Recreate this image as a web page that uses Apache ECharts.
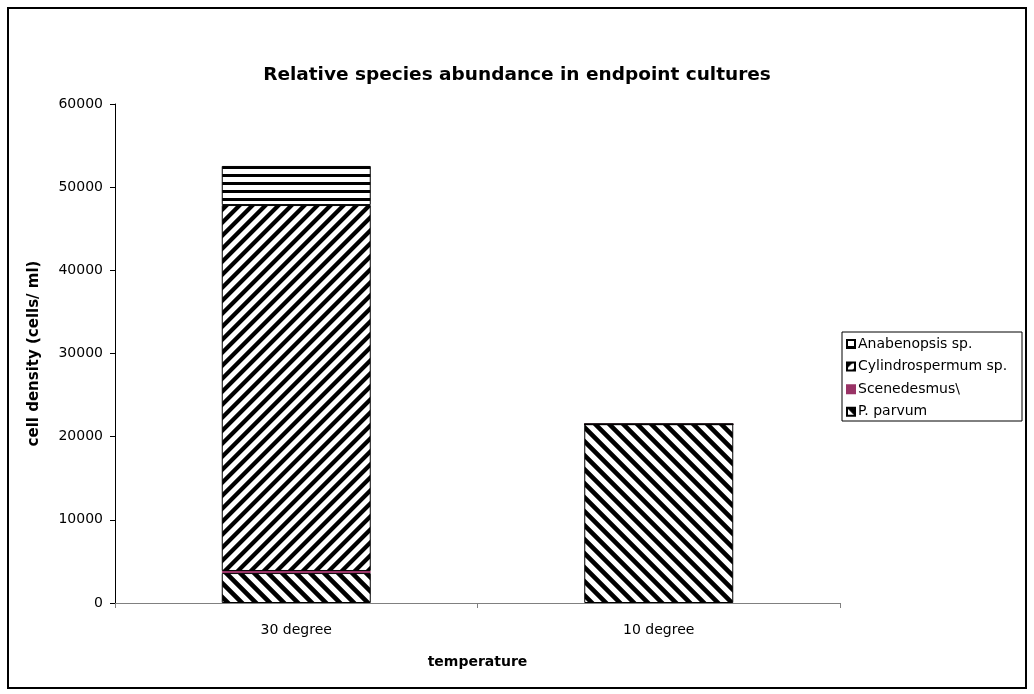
<!DOCTYPE html>
<html>
<head>
<meta charset="utf-8">
<script src="https://cdn.jsdelivr.net/npm/echarts@6/dist/echarts.min.js"></script>
<style>
  html, body { margin: 0; padding: 0; background: #fff; }
  #chart { width: 1034px; height: 694px; }
</style>
</head>
<body>
<div id="chart"></div>
<script>
// Cell densities (cells/ml) per species at each culture temperature
const categories = ['30 degree', '10 degree'];
const pParvum = [3600, 21500];
const scenedesmus = [250, 0];
const cylindrospermum = [44000, 0];
const anabenopsis = [4700, 0];
const seriesNames = ['P. parvum', 'Scenedesmus\\', 'Cylindrospermum sp.', 'Anabenopsis sp.'];
const yMax = 60000;
const yStep = 10000;

// Seamless black-and-white hatch tile, supersampled so stripe edges are smooth.
// dir: 'back' = lines falling to the right, 'fwd' = rising, 'horiz' = horizontal
function hatch(dir, period, black, phase) {
  const size = period;
  const c = document.createElement('canvas');
  c.width = size; c.height = size;
  const g = c.getContext('2d');
  const img = g.createImageData(size, size);
  const ss = 4;
  for (let y = 0; y < size; y++) {
    for (let x = 0; x < size; x++) {
      let hit = 0;
      for (let sy = 0; sy < ss; sy++) {
        for (let sx = 0; sx < ss; sx++) {
          const px = x + (sx + 0.5) / ss;
          const py = y + (sy + 0.5) / ss;
          let t;
          if (dir === 'back') t = px - py;
          else if (dir === 'fwd') t = px + py;
          else t = py;
          t -= phase || 0;
          t = ((t % period) + period) % period;
          if (t < black) hit++;
        }
      }
      const v = Math.round(255 * (1 - hit / (ss * ss)));
      const o = (y * size + x) * 4;
      img.data[o] = v; img.data[o + 1] = v; img.data[o + 2] = v; img.data[o + 3] = 255;
    }
  }
  g.putImageData(img, 0, 0);
  return { image: c, repeat: 'repeat' };
}

const maroon = '#993366';
const fills = [
  hatch('back', 14, 6.5),
  maroon,
  hatch('fwd', 13, 6),
  hatch('horiz', 8, 3, 6)
];
const borders = ['#000', maroon, '#000', '#000'];
const values = [pParvum, scenedesmus, cylindrospermum, anabenopsis];

const font = 'DejaVu Sans, Verdana, sans-serif';
const chart = echarts.init(document.getElementById('chart'), null, { renderer: 'canvas' });

chart.setOption({
  animation: false,
  backgroundColor: '#fff',
  title: {
    text: 'Relative species abundance in endpoint cultures',
    left: 'center',
    top: 61,
    textStyle: { fontFamily: font, fontSize: 18.5, fontWeight: 'bold', color: '#000' }
  },
  grid: { left: 115, right: 194, top: 104, bottom: 91 },
  legend: {
    orient: 'vertical',
    left: 846,
    top: 337,
    itemWidth: 8,
    itemHeight: 8,
    itemGap: 8.6,
    padding: 0,
    icon: 'rect',
    data: seriesNames.slice().reverse(),
    textStyle: { fontFamily: font, fontSize: 14, lineHeight: 14, color: '#000', padding: [0, 0, 0, -2] }
  },
  xAxis: {
    type: 'category',
    data: categories,
    name: 'temperature',
    nameLocation: 'middle',
    nameGap: 52,
    nameTextStyle: { fontFamily: font, fontSize: 14, fontWeight: 'bold', color: '#000' },
    axisLine: { lineStyle: { color: '#808080', width: 1 } },
    axisTick: { show: true, length: 5, lineStyle: { color: '#808080' } },
    axisLabel: { margin: 20, fontFamily: font, fontSize: 14, color: '#000' }
  },
  yAxis: {
    type: 'value',
    min: 0,
    max: yMax,
    interval: yStep,
    name: 'cell density (cells/ ml)',
    nameLocation: 'middle',
    nameGap: 73,
    nameTextStyle: { fontFamily: font, fontSize: 15, fontWeight: 'bold', color: '#000' },
    axisLine: { show: true, lineStyle: { color: '#000', width: 1 } },
    axisTick: { show: true, length: 5, lineStyle: { color: '#000' } },
    splitLine: { show: false },
    axisLabel: { margin: 12, fontFamily: font, fontSize: 14, color: '#000', formatter: v => String(v) }
  },
  series: seriesNames.map((name, i) => ({
    name: name,
    type: 'bar',
    stack: 'total',
    barWidth: 149,
    data: values[i],
    itemStyle: { color: fills[i], borderColor: borders[i], borderWidth: 1 },
    emphasis: { disabled: true }
  })),
  graphic: [
    {
      type: 'rect',
      shape: { x: 8, y: 8, width: 1018, height: 680 },
      style: { fill: 'none', stroke: '#000', lineWidth: 2 },
      silent: true
    },
    {
      type: 'rect',
      shape: { x: 842, y: 332, width: 180, height: 89 },
      style: { fill: 'none', stroke: '#000', lineWidth: 1 },
      silent: true
    }
  ]
});
</script>
</body>
</html>
